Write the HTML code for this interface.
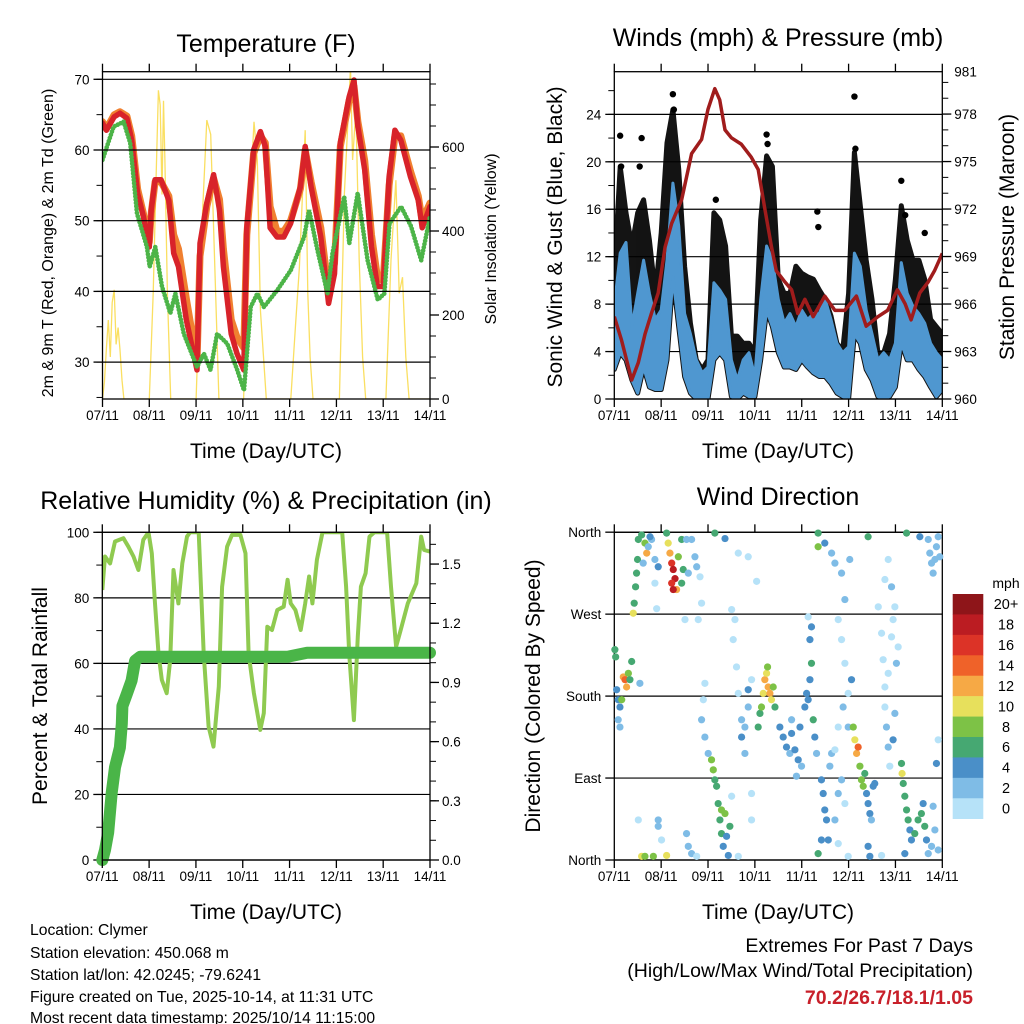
<!DOCTYPE html>
<html><head><meta charset="utf-8"><style>
html,body{margin:0;padding:0;background:#fff}
svg{display:block;font-family:"Liberation Sans",Arial,sans-serif}
</style></head><body>
<svg id="svg" width="1024" height="1024" viewBox="0 0 1024 1024" xmlns="http://www.w3.org/2000/svg">
<defs>
<clipPath id="cT"><rect x="102.5" y="71.7" width="327.5" height="327.3"/></clipPath>
<clipPath id="cW"><rect x="614.3" y="71.7" width="328" height="327.3"/></clipPath>
<clipPath id="cR"><rect x="102.3" y="532.3" width="327.7" height="327.7"/></clipPath>
<clipPath id="cD"><rect x="610" y="526" width="336" height="340"/></clipPath>
</defs>
<g font-size="25" text-anchor="middle" fill="#000">
<text x="266" y="52">Temperature (F)</text>
<text x="778" y="46">Winds (mph) &amp; Pressure (mb)</text>
<text x="266" y="509">Relative Humidity (%) &amp; Precipitation (in)</text>
<text x="778" y="505">Wind Direction</text>
</g>
<g font-size="21" text-anchor="middle">
<text x="266" y="458">Time (Day/UTC)</text>
<text x="778" y="458">Time (Day/UTC)</text>
<text x="266" y="919">Time (Day/UTC)</text>
<text x="778" y="919">Time (Day/UTC)</text>
<text transform="translate(562,237) rotate(-90)">Sonic Wind &amp; Gust (Blue, Black)</text>
<text transform="translate(1014,237) rotate(-90)">Station Pressure (Maroon)</text>
<text transform="translate(47,696) rotate(-90)">Percent &amp; Total Rainfall</text>
<text transform="translate(540,696) rotate(-90)">Direction (Colored By Speed)</text>
</g>
<g font-size="16" text-anchor="middle">
<text transform="translate(53,243) rotate(-90)">2m &amp; 9m T (Red, Orange) &amp; 2m Td (Green)</text>
<text transform="translate(496,239) rotate(-90)">Solar Insolation (Yellow)</text>
</g>
<g font-size="15.7" fill="#000">
<text x="30" y="935">Location: Clymer</text>
<text x="30" y="958">Station elevation: 450.068 m</text>
<text x="30" y="980">Station lat/lon: 42.0245; -79.6241</text>
<text x="30" y="1002">Figure created on Tue, 2025-10-14, at 11:31 UTC</text>
<text x="30" y="1023">Most recent data timestamp: 2025/10/14 11:15:00</text>
</g>
<g font-size="19.5" text-anchor="end">
<text x="973" y="952">Extremes For Past 7 Days</text>
<text x="973" y="977">(High/Low/Max Wind/Total Precipitation)</text>
<text x="973" y="1004" fill="#c8202a" font-weight="bold">70.2/26.7/18.1/1.05</text>
</g>
<g id="marks"></g>
</svg>
<script>
// ---------- DATA ----------
const dayLabels = ["07/11","08/11","09/11","10/11","11/11","12/11","13/11","14/11"];
// Temperature (F)
const tempHours = [0,2,6,9,12.5,15,18,21,24,25,27,30,34,36.5,39,43,48.5,50,53.5,57,60,62,66,69,72.5,74,77.5,81,83.5,86,89.5,93,96.5,101.5,104,107,112,116,119,122,126.5,129,131,134.5,138,141,144,147,150,153,158,162,164,168];
const tempRed = [63.8,62.8,64.7,65.2,64.5,61.4,53.9,50.6,46.3,51.5,55.8,55.8,52.9,45.4,43.5,36,28.9,46.8,52.5,56.5,51.5,43.5,34,31.2,28.9,49,60,62.6,60.5,49,47.7,47.7,49.6,54.8,60.5,54.8,47.7,38.3,42.5,61,67.5,69.9,63.3,57.2,46.3,40.7,40.7,56.2,62.8,61.4,56.2,52.9,49,52];
const tempOrange = [64,63,65,65.4,64.8,62,54.5,51,47,51,55.5,55.5,53.5,48,46,39,30,45,52,56,53,46,36,33.5,32,48,59.5,62,61,52,48.5,48.5,50,54.5,60,55.5,49,40,44,60.5,67,69,64,58.5,48,42,41.5,55,62,62,57,53.5,50,52.5];
const tdHours = [0,5.7,10.8,14.2,17.7,22.8,24.2,27.1,30.5,34.8,37.4,41.7,48.5,52,55.4,58.8,64,69.1,72.6,76,79.4,82.8,89.7,96.6,103.4,106,110.3,115.4,118,124,126.6,130.9,136,141.2,144.6,147.2,153.2,158.3,163.5,168];
const tdVals = [58.6,63.3,64,61,51,46.3,43.5,46.3,40.7,36.9,39.7,34,29.3,31.2,28.9,34,32.6,28.9,26,37.8,39.7,37.8,40.2,43,47.7,51.5,45.8,39.7,45.4,53.4,46.8,53.9,44.4,38.8,39.7,49.6,52,49.2,44.4,50.6];
const solarHours = [0,1,2,3,4,5,6,7,8,9,10,11,24,26,27.5,28.7,29.6,30.5,31.3,32,33.3,35,48,51,53.5,55.5,57.5,59.7,72.4,75,77.7,79.4,81,84,96.6,99,101,104,105.3,106.5,108,121.5,124.1,125.8,127.2,128.3,130,131.7,133.4,135,145.4,148,150.5,152.2,153.9,155.6,157.3,168];
const solarVals = [0,40,120,188,100,230,260,130,170,117,45,0,0,252,528,735,700,487,710,569,252,0,0,410,664,630,331,0,0,410,660,569,212,0,0,175,314,640,252,100,0,0,490,650,790,569,690,331,100,0,0,331,521,252,290,100,0,0];
const tempTicks = [30,40,50,60,70];
const solarTicks = [0,200,400,600];
// Winds (mph) & pressure (mb), every 3 h
const windStepHours = 3;
const windHi = [7.8,12.3,13.2,6.1,8.9,11.7,8.9,6.7,7.5,11.7,18.2,14.6,7.2,5.5,3.3,2.2,2.7,9.8,9.2,8.4,3.3,1.6,3.3,3.9,1.9,8.4,12.9,11.7,8.4,6.4,7.2,6.1,7.5,6.7,7.2,7.2,8.4,6.7,4.7,3.9,4.4,12.3,11.2,7.5,5.5,3.3,3.9,3.3,4.7,11.5,8.9,7.8,7.2,6.4,4.7,3.9,3.3];
const windLo = [2.5,3.9,3.3,1.6,0.5,2.7,1.0,0.8,0.8,3.3,10.3,6.1,1.9,0.5,0,0,0,3.3,3.9,3.3,0.2,0,0.5,0.2,0.2,3.3,7.5,6.1,3.9,2.7,2.7,2.5,3.3,2.7,2.2,1.9,1.9,1.3,0.5,0.2,0,5.5,4.7,2.5,1.6,0.2,0,0.2,1.0,4.7,3.3,3.3,2.5,1.9,1.0,0.2,0.8];
const gustTop = [10.6,19.6,15.7,12.9,15.7,16.8,13.4,8.9,14,21.6,24.4,19.4,11.2,6.4,3.3,2.5,3.3,15.7,15.1,12.9,5.3,5.3,4.7,4.7,3.9,15.1,20.5,19.6,10.1,8.9,8.9,11.2,10.6,10.3,10.1,9.2,8.4,7.0,4.7,4.1,8.9,20.8,16.3,11.7,8.4,3.9,3.9,5.5,10.1,16.3,13.4,11.7,11.7,10.1,6.7,6.1,5.5];
const gustOutHours = [3,3.5,14,13,30,30.5,52,78,78.5,104,104.5,123,123.5,147,159,149];
const gustOutVals = [22.2,19.6,22,19.6,25.7,24.4,16.8,22.3,21.5,15.8,14.5,25.5,21.1,18.4,14,15.5];
const presHours = [0,3.75,8.9,12.3,15.7,19,22.5,26,29.4,34.5,39.6,44.7,48,51.5,54,56.7,60,65,70,73.7,77,80.5,83,87.4,90.8,94,97.6,101.9,107.8,113,118,124,129,135,140,145,149,152,156.5,160.8,164,168];
const presVals = [965.2,963.7,961.2,962.3,964.1,965.4,966.7,969.6,971.1,972.6,975.5,976.4,978.3,979.6,978.9,977,976.5,976.1,975.3,974.5,972.1,969.6,968.1,967.4,966.9,965.4,966.3,965.2,966.5,965.6,965.6,966.5,964.6,965.2,965.6,966.9,966,965,966.7,967.4,968.1,969.2];
const windTicks = [0,4,8,12,16,20,24];
const presTicks = [960,963,966,969,972,975,978];
// Relative humidity (%) & precipitation (in)
const rhHours = [0,1.4,4,6.5,10.8,13.4,16,18.5,21,23.7,25.4,27,28.8,30.5,33,34.8,36.5,39,41,43.4,45,49.4,52,54.5,57,59.7,61.4,64,66.5,70.8,73.4,75,77.7,81,82.8,84.6,87,89.7,93,95,96.6,99,101.7,104,106,107.7,110,112.9,123,125,126.6,129,131,132.6,135,137,139.5,146,148,150.6,153,156.6,161,163.5,165,168];
const rhVals = [82.4,92.6,90.5,97.2,98.2,95.6,92.6,88.5,97.7,100,93.6,78.3,63,55,50.9,61,88.5,78.3,90.5,98.7,100,100,63,40.7,34.6,52.9,83.4,95.6,99.2,99.2,93.6,63,50.9,39.7,44.8,71.2,70.2,76.3,77.3,85.5,78.3,76.3,70.2,78.3,86.5,78.3,91.6,100,100,83.4,63,42.7,68.2,83.4,87.5,98.7,100,100,83.4,65.1,70.2,78.3,84.4,98.7,94.6,94.1];
const pcpHours = [0,1.4,3,4.8,6.5,9,10,10.3,12.5,15,16.8,19.4,95,105,168];
const pcpVals = [0,0.05,0.14,0.34,0.47,0.57,0.69,0.78,0.84,0.91,1.01,1.03,1.03,1.05,1.05];
const rhTicks = [0,20,40,60,80,100];
const pcpTicks = [0.0,0.3,0.6,0.9,1.2,1.5];
// Wind direction (deg, 0=North bottom) coloured by speed (mph)
const dirHours = [0.3,0.7,1.2,2,2.9,2,2.9,3.8,4.6,5.5,6.3,7.2,8,8.9,13.1,
9.7,10.2,10.9,11.4,11.9,12.3,14,15.7,16.6,14.8,17.4,19.1,20.8,22.5,20.8,21.7,18.3,
26.8,27.6,28.5,29.4,30.2,31.1,29.4,31.9,30.2,32.8,34.5,34.5,35.3,37,39.6,41.3,42.2,43.9,44.7,37.9,36.2,43,
14,15.7,20,22.5,22.5,24.2,26.8,12.3,
37,37.9,39.6,42.2,46.4,45.6,44.7,46.4,48.1,49.8,50.7,51.5,52.4,53.2,54.9,54.1,54.9,55.8,57.5,58.4,56.7,59.2,51.5,56.7,
60.1,61.8,63.5,60.9,62.6,63.5,65.2,65.2,66.9,68.6,68.6,70.3,66.9,70.3,70.3,60.1,63.5,68.6,72.9,
73.7,74.6,75.4,76.3,77.1,78,78.8,79.7,80.5,81.4,82.3,78.5,
84.8,86.5,88.2,89.9,90.8,92.5,94.2,95.9,95.1,97.6,98.5,99.3,100.2,101,100.2,101,101.9,102.7,103.6,93.3,90.8,99.3,104.4,104.4,107.8,111.3,113,104.4,106.1,
106.1,107,107.8,108.7,109.6,110.4,111.3,113,114.7,116.4,113,114.7,118.1,119.8,116.4,118.1,114.7,116.4,118.1,119.8,121.5,117.2,114.7,119.8,120.6,
122.4,123.2,124.1,124.9,125.8,126.6,127.5,128.3,129.2,130,130.9,131.7,132.6,130,130.9,133.4,130,135.2,136.9,137.7,138.6,138.6,139.4,140.3,140.3,142,142.8,140.3,138.6,142,143.7,145.4,144.5,143.7,142.8,141.1,136.9,
147.1,147.4,148,148.8,149.7,150.5,151.4,152.2,153.9,155.6,157.3,158.2,159,159.9,160.8,162.5,164.2,165.9,163.3,148.8,149.7,156.5,
160.8,161.6,162.5,163.3,164.2,165,165.9,166.7,165.9,165];
const dirDeg = [231,223,187,176,168,154,146,176,201,198,190,205,198,218,194,
271,282,300,315,330,352,357,348,337,326,344,352,330,322,304,276,355,
359,348,337,326,319,309,304,297,297,333,352,304,319,352,352,333,322,311,282,315,264,264,
4,4,4,44,37,22,5,44,
29,15,7,4,194,176,154,135,117,110,99,88,81,62,55,44,29,15,26,5,51,37,359,353,
275,264,337,242,212,183,154,135,146,168,187,198,117,73,44,70,4,333,306,
146,161,168,183,198,205,190,183,176,190,168,212,
146,135,124,117,139,121,110,103,146,168,183,176,198,216,242,256,154,135,117,92,154,267,359,344,348,337,326,7,22,
88,73,55,44,22,103,117,121,73,88,44,18,62,4,315,286,264,242,216,183,198,168,146,146,330,
146,132,117,124,103,88,81,95,73,62,51,44,81,15,4,84,355,278,249,220,190,168,146,124,205,245,264,330,308,300,278,234,216,161,132,103,5,
106,95,84,70,55,44,33,22,29,44,51,62,37,22,7,15,33,11,59,7,359,355,
352,337,326,315,330,344,355,333,132,106];
const dirSpd = [6,6,4,4,4,2,2,8,12,14,12,8,6,6,2,
10,6,6,6,6,6,6,8,12,2,2,2,2,4,0,0,4,
6,10,12,16,18,18,16,12,18,8,6,6,6,2,2,2,2,0,0,2,0,0,
10,8,8,2,2,0,10,0,
2,2,2,0,0,0,2,2,2,8,8,6,6,6,8,6,6,4,4,4,8,6,6,4,
0,0,0,0,0,0,2,4,2,2,4,0,2,0,0,0,0,0,0,
6,6,8,10,12,10,12,12,10,8,6,8,
4,4,4,2,4,4,4,2,4,4,4,4,4,6,4,4,6,4,2,2,2,0,6,8,4,2,2,6,4,
4,4,4,4,4,2,2,0,2,2,2,0,0,0,2,2,0,0,0,0,4,2,0,2,2,
8,10,12,14,8,8,8,6,4,4,4,2,4,4,4,4,6,0,0,0,0,0,2,2,0,0,0,0,0,2,0,0,2,2,4,0,0,
6,10,6,6,6,6,4,4,6,6,6,4,6,4,2,2,2,2,2,4,6,4,
2,2,2,2,2,2,2,2,0,4];
const speedBins = ["0","2","4","6","8","10","12","14","16","18","20+"];
const speedColors = ["#b6e2f8","#7fbce6","#4a8fc8","#46a872","#7dc246","#e7e05c","#f6a945","#ef6229","#dc3327","#bb1c22","#8e1519"];
const dirTicks = [0,90,180,270,360];
const dirTickLabels = ["North","East","South","West","North"];

// ---------- DRAWING ----------
const NS = "http://www.w3.org/2000/svg";
const root = document.getElementById("marks");
function mk(tag, attrs, parent) {
  const e = document.createElementNS(NS, tag);
  for (const k in attrs) e.setAttribute(k, attrs[k]);
  (parent || root).appendChild(e);
  return e;
}
const P = {
  T: {L:102.5, R:430, T:71.7, B:399},
  W: {L:614.3, R:942.3, T:71.7, B:399},
  H: {L:102.3, R:430, T:532.3, B:860},
  D: {L:614.3, R:942.3, T:532.3, B:860}
};
function xs(p, h) { return p.L + h / 168 * (p.R - p.L); }
const tY = v => 79.3 + (70 - v) * 7.07;
const sY = w => 399 - w * 0.42;
const wY = m => 399 - m * 11.86;
const pY = p => 399 - (p - 960) * 15.83;
const rY = v => 860 - v * 3.277;
const cY = v => 860 - v * 197.3;
const dY = d => 860 - d * 0.9106;

function frame(p, name) {
  const r = mk("rect", {x:p.L, y:p.T, width:p.R-p.L, height:p.B-p.T, fill:"none", stroke:"#000", "stroke-width":1.3});
  
  
  for (let d = 0; d < 8; d++) {
    const x = xs(p, d * 24);
    const t1 = mk("line", {x1:x, y1:p.B, x2:x, y2:p.B+8, stroke:"#000", "stroke-width":1.3});
    
    
    const t2 = mk("line", {x1:x, y1:p.T, x2:x, y2:p.T-8, stroke:"#000", "stroke-width":1.3});
    
    
    const lb = mk("text", {x:x, y:p.B+21, "font-size":13.5, "text-anchor":"middle"});
    lb.textContent = dayLabels[d];
    
    
  }
}
function yAxis(p, ticks, fy, side, labels, minorStep, lo, hi, name, grid) {
  ticks.forEach((v, i) => {
    const y = fy(v);
    if (grid) {
      const g = mk("line", {x1:p.L, y1:y, x2:p.R, y2:y, stroke:"#000", "stroke-width":1.2});
      
      
    }
    const x0 = side === "L" ? p.L : p.R;
    const dx = side === "L" ? -9 : 9;
    const t = mk("line", {x1:x0, y1:y, x2:x0+dx, y2:y, stroke:"#000", "stroke-width":1.3});
    
    
    const lb = mk("text", {x: side === "L" ? p.L-13 : p.R+12, y:y+5, "font-size":13.5, "text-anchor": side === "L" ? "end" : "start"});
    lb.textContent = labels[i];
    
    
  });
  if (minorStep) {
    for (let v = lo; v <= hi + 1e-9; v += minorStep) {
      const y = fy(v);
      const x0 = side === "L" ? p.L : p.R;
      const dx = side === "L" ? -6 : 6;
      const m = mk("line", {x1:x0, y1:y, x2:x0+dx, y2:y, stroke:"#000", "stroke-width":1});
      
      
    }
  }
}
function pts(hours, vals, p, fy) { return hours.map((h, i) => xs(p, h).toFixed(1) + "," + fy(vals[i]).toFixed(1)).join(" "); }

// ---- Temperature panel ----
const gT = mk("g", {"clip-path":"url(#cT)"});


const solar = mk("polyline", {points:pts(solarHours, solarVals, P.T, sY), fill:"none", stroke:"#f9dc50", "stroke-width":1.3, opacity:0.9}, gT);


const oLine = mk("polyline", {points:pts(tempHours, tempOrange, P.T, tY), fill:"none", stroke:"#f08030", "stroke-width":7, "stroke-linejoin":"round", "stroke-linecap":"round"}, gT);


const rLine = mk("polyline", {points:pts(tempHours, tempRed, P.T, tY), fill:"none", stroke:"#d8232a", "stroke-width":5.5, "stroke-linejoin":"round", "stroke-linecap":"round"}, gT);


const tdLine = mk("polyline", {points:pts(tdHours, tdVals, P.T, tY), fill:"none", stroke:"#4cb448", "stroke-width":4.6, "stroke-linecap":"round", "stroke-dasharray":"0.1 3.2"}, gT);


yAxis(P.T, tempTicks, tY, "L", tempTicks.map(String), 5, 25, 70, "temp-y", true);
yAxis(P.T, solarTicks, sY, "R", solarTicks.map(String), 50, 0, 750, "solar-y", false);
frame(P.T, "temperature");

// ---- Winds panel ----
yAxis(P.W, windTicks, wY, "L", windTicks.map(String), 2, 0, 26, "wind-y", true);
yAxis(P.W, presTicks, pY, "R", presTicks.map(String), 1, 960, 980, "pressure-y", false);
const top981 = mk("text", {x:P.W.R+12, y:P.W.T+5, "font-size":13.5});
top981.textContent = "981";


const gW = mk("g", {"clip-path":"url(#cW)"});


const wHours = windHi.map((_, i) => i * windStepHours);
const gustPoly = wHours.map((h, i) => xs(P.W, h).toFixed(1) + "," + wY(gustTop[i]).toFixed(1)).concat(wHours.slice().reverse().map((h) => { const i = wHours.indexOf(h); return xs(P.W, h).toFixed(1) + "," + wY(windLo[i]).toFixed(1); })).join(" ");
const gustArea = mk("polygon", {points:gustPoly, fill:"#000", stroke:"#000", "stroke-width":5, "stroke-linejoin":"round", opacity:0.92}, gW);


gustOutHours.forEach((h, i) => {
  const c = mk("circle", {cx:xs(P.W, h), cy:wY(gustOutVals[i]), r:3.2, fill:"#000"}, gW);
  
  
});
const windPoly = wHours.map((h, i) => xs(P.W, h).toFixed(1) + "," + wY(windHi[i]).toFixed(1)).concat(wHours.slice().reverse().map((h) => { const i = wHours.indexOf(h); return xs(P.W, h).toFixed(1) + "," + wY(windLo[i]).toFixed(1); })).join(" ");
const windArea = mk("polygon", {points:windPoly, fill:"#4f97d0", stroke:"#4f97d0", "stroke-width":3, "stroke-linejoin":"round"}, gW);


const presLine = mk("polyline", {points:pts(presHours, presVals, P.W, pY), fill:"none", stroke:"#a01c1c", "stroke-width":3.5, "stroke-linejoin":"round"}, gW);


frame(P.W, "winds");

// ---- Humidity panel ----
yAxis(P.H, rhTicks, rY, "L", rhTicks.map(String), 10, 0, 100, "rh-y", true);
yAxis(P.H, pcpTicks, cY, "R", pcpTicks.map(v => v.toFixed(1)), 0.1, 0, 1.6, "precip-y", false);
const gH = mk("g", {"clip-path":"url(#cR)"});


const rhLine = mk("polyline", {points:pts(rhHours, rhVals, P.H, rY), fill:"none", stroke:"#8fca50", "stroke-width":4, "stroke-linejoin":"round"}, gH);


const pcpLine = mk("polyline", {points:pts(pcpHours, pcpVals, P.H, cY), fill:"none", stroke:"#4ab548", "stroke-width":12, "stroke-linejoin":"round", "stroke-linecap":"round"}, root);


frame(P.H, "humidity");

// ---- Wind direction panel ----
yAxis(P.D, dirTicks, dY, "L", dirTickLabels, 0, 0, 0, "direction-y", true);
frame(P.D, "direction");
const gD = mk("g", {"clip-path":"url(#cD)"});


dirHours.forEach((h, i) => {
  const bin = Math.min(10, Math.floor(dirSpd[i] / 2));
  const c = mk("circle", {cx:xs(P.D, h), cy:dY(dirDeg[i]), r:3.6, fill:speedColors[bin]}, gD);
  
  
});
// colorbar
const mphLbl = mk("text", {x:1006, y:588, "font-size":14, "text-anchor":"middle"});
mphLbl.textContent = "mph";


const binH = (818.7 - 594) / speedBins.length;
speedBins.forEach((lab, i) => {
  const k = speedBins.length - 1 - i;
  const y = 594 + i * binH;
  const r = mk("rect", {x:952.7, y:y, width:30.6, height:binH + 0.3, fill:speedColors[k]});
  
  
  const t = mk("text", {x:1006, y:y + binH/2 + 5, "font-size":14.5, "text-anchor":"middle"});
  t.textContent = speedBins[k];
  
  
});
</script>
</body></html>
